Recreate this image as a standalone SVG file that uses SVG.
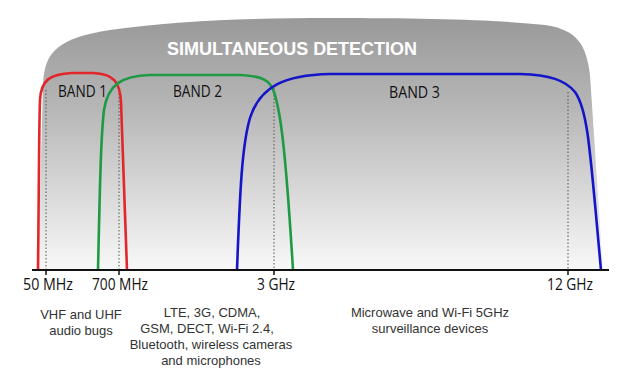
<svg xmlns="http://www.w3.org/2000/svg" width="623" height="375" viewBox="0 0 623 375">
<style>
.band{fill:none;stroke-width:2.6;stroke-linejoin:round}
.dot{stroke:#555;stroke-width:1;stroke-dasharray:1.5 2;fill:none}
.lbl{font-family:"Open Sans","Liberation Sans",sans-serif;font-size:16px;fill:#111}
.desc{font-family:"Liberation Sans",Arial,sans-serif;font-size:13px;fill:#333;text-anchor:middle}
</style>
<defs>
<linearGradient id="bg" x1="0" y1="0" x2="0" y2="1">
<stop offset="0" stop-color="#999999"/>
<stop offset="0.35" stop-color="#b6b6b6"/>
<stop offset="1" stop-color="#f8f8f8"/>
</linearGradient>
</defs>
<rect width="623" height="375" fill="#ffffff"/>
<g id="detection-area">
<path d="M38 270 L43 85 C44 50 60 38 110 30 C180 20 260 18 330 18 C430 18 500 20 545 25 C578 30 586 45 590 75 L603 270 Z" fill="url(#bg)"/>
<text x="292" y="55" font-family="Liberation Sans,Arial,sans-serif" font-weight="bold" font-size="19" fill="#ffffff" text-anchor="middle" textLength="250" lengthAdjust="spacingAndGlyphs">SIMULTANEOUS DETECTION</text>
</g>
<g id="markers">
<line class="dot" x1="46" y1="90" x2="46" y2="270"/>
<line class="dot" x1="119" y1="90" x2="119" y2="270"/>
<line class="dot" x1="274" y1="88" x2="274" y2="270"/>
<line class="dot" x1="568" y1="92" x2="568" y2="270"/>
</g>
<g id="band1">
<path class="band" stroke="#e3262b" d="M38 270 C39 180 39 125 40 100 C41 80 50 74 72 73 L93 73 C114 74 120 82 121 102 C122 140 125 200 127 270"/>
<text class="lbl" x="58" y="97" textLength="49" lengthAdjust="spacingAndGlyphs">BAND 1</text>
</g>
<g id="band2">
<path class="band" stroke="#1e9a45" d="M98 270 C100 180 101 135 104 110 C108 84 122 76 150 75 L240 75 C262 76 270 80 274 92 C280 110 285 140 293 270"/>
<text class="lbl" x="173" y="97" textLength="49" lengthAdjust="spacingAndGlyphs">BAND 2</text>
</g>
<g id="band3">
<path class="band" stroke="#1414c8" d="M237 270 C240 190 242 145 250 118 C260 86 285 75 330 74 L520 74 C550 75 565 80 575 92 C588 110 590 150 601 270"/>
<text class="lbl" x="389" y="98" textLength="51" lengthAdjust="spacingAndGlyphs">BAND 3</text>
</g>
<g id="axis">
<line x1="32" y1="270" x2="609" y2="270" stroke="#111" stroke-width="2"/>
<path d="M46 270 V275 M119 270 V275 M274 270 V275 M568 270 V275" stroke="#111" stroke-width="1.5"/>
<text class="lbl" x="23" y="290" textLength="50" lengthAdjust="spacingAndGlyphs">50 MHz</text>
<text class="lbl" x="92" y="290" textLength="56" lengthAdjust="spacingAndGlyphs">700 MHz</text>
<text class="lbl" x="257" y="290" textLength="38" lengthAdjust="spacingAndGlyphs">3 GHz</text>
<text class="lbl" x="547" y="290" textLength="46" lengthAdjust="spacingAndGlyphs">12 GHz</text>
</g>
<g id="descriptions">
<text class="desc" x="81" y="319">VHF and UHF</text>
<text class="desc" x="81" y="335">audio bugs</text>
<text class="desc" x="212" y="317">LTE, 3G, CDMA,</text>
<text class="desc" x="207" y="333">GSM, DECT, Wi-Fi 2.4,</text>
<text class="desc" x="211" y="349">Bluetooth, wireless cameras</text>
<text class="desc" x="211" y="365">and microphones</text>
<text class="desc" x="430" y="317">Microwave and Wi-Fi 5GHz</text>
<text class="desc" x="430" y="333">surveillance devices</text>
</g>
</svg>
